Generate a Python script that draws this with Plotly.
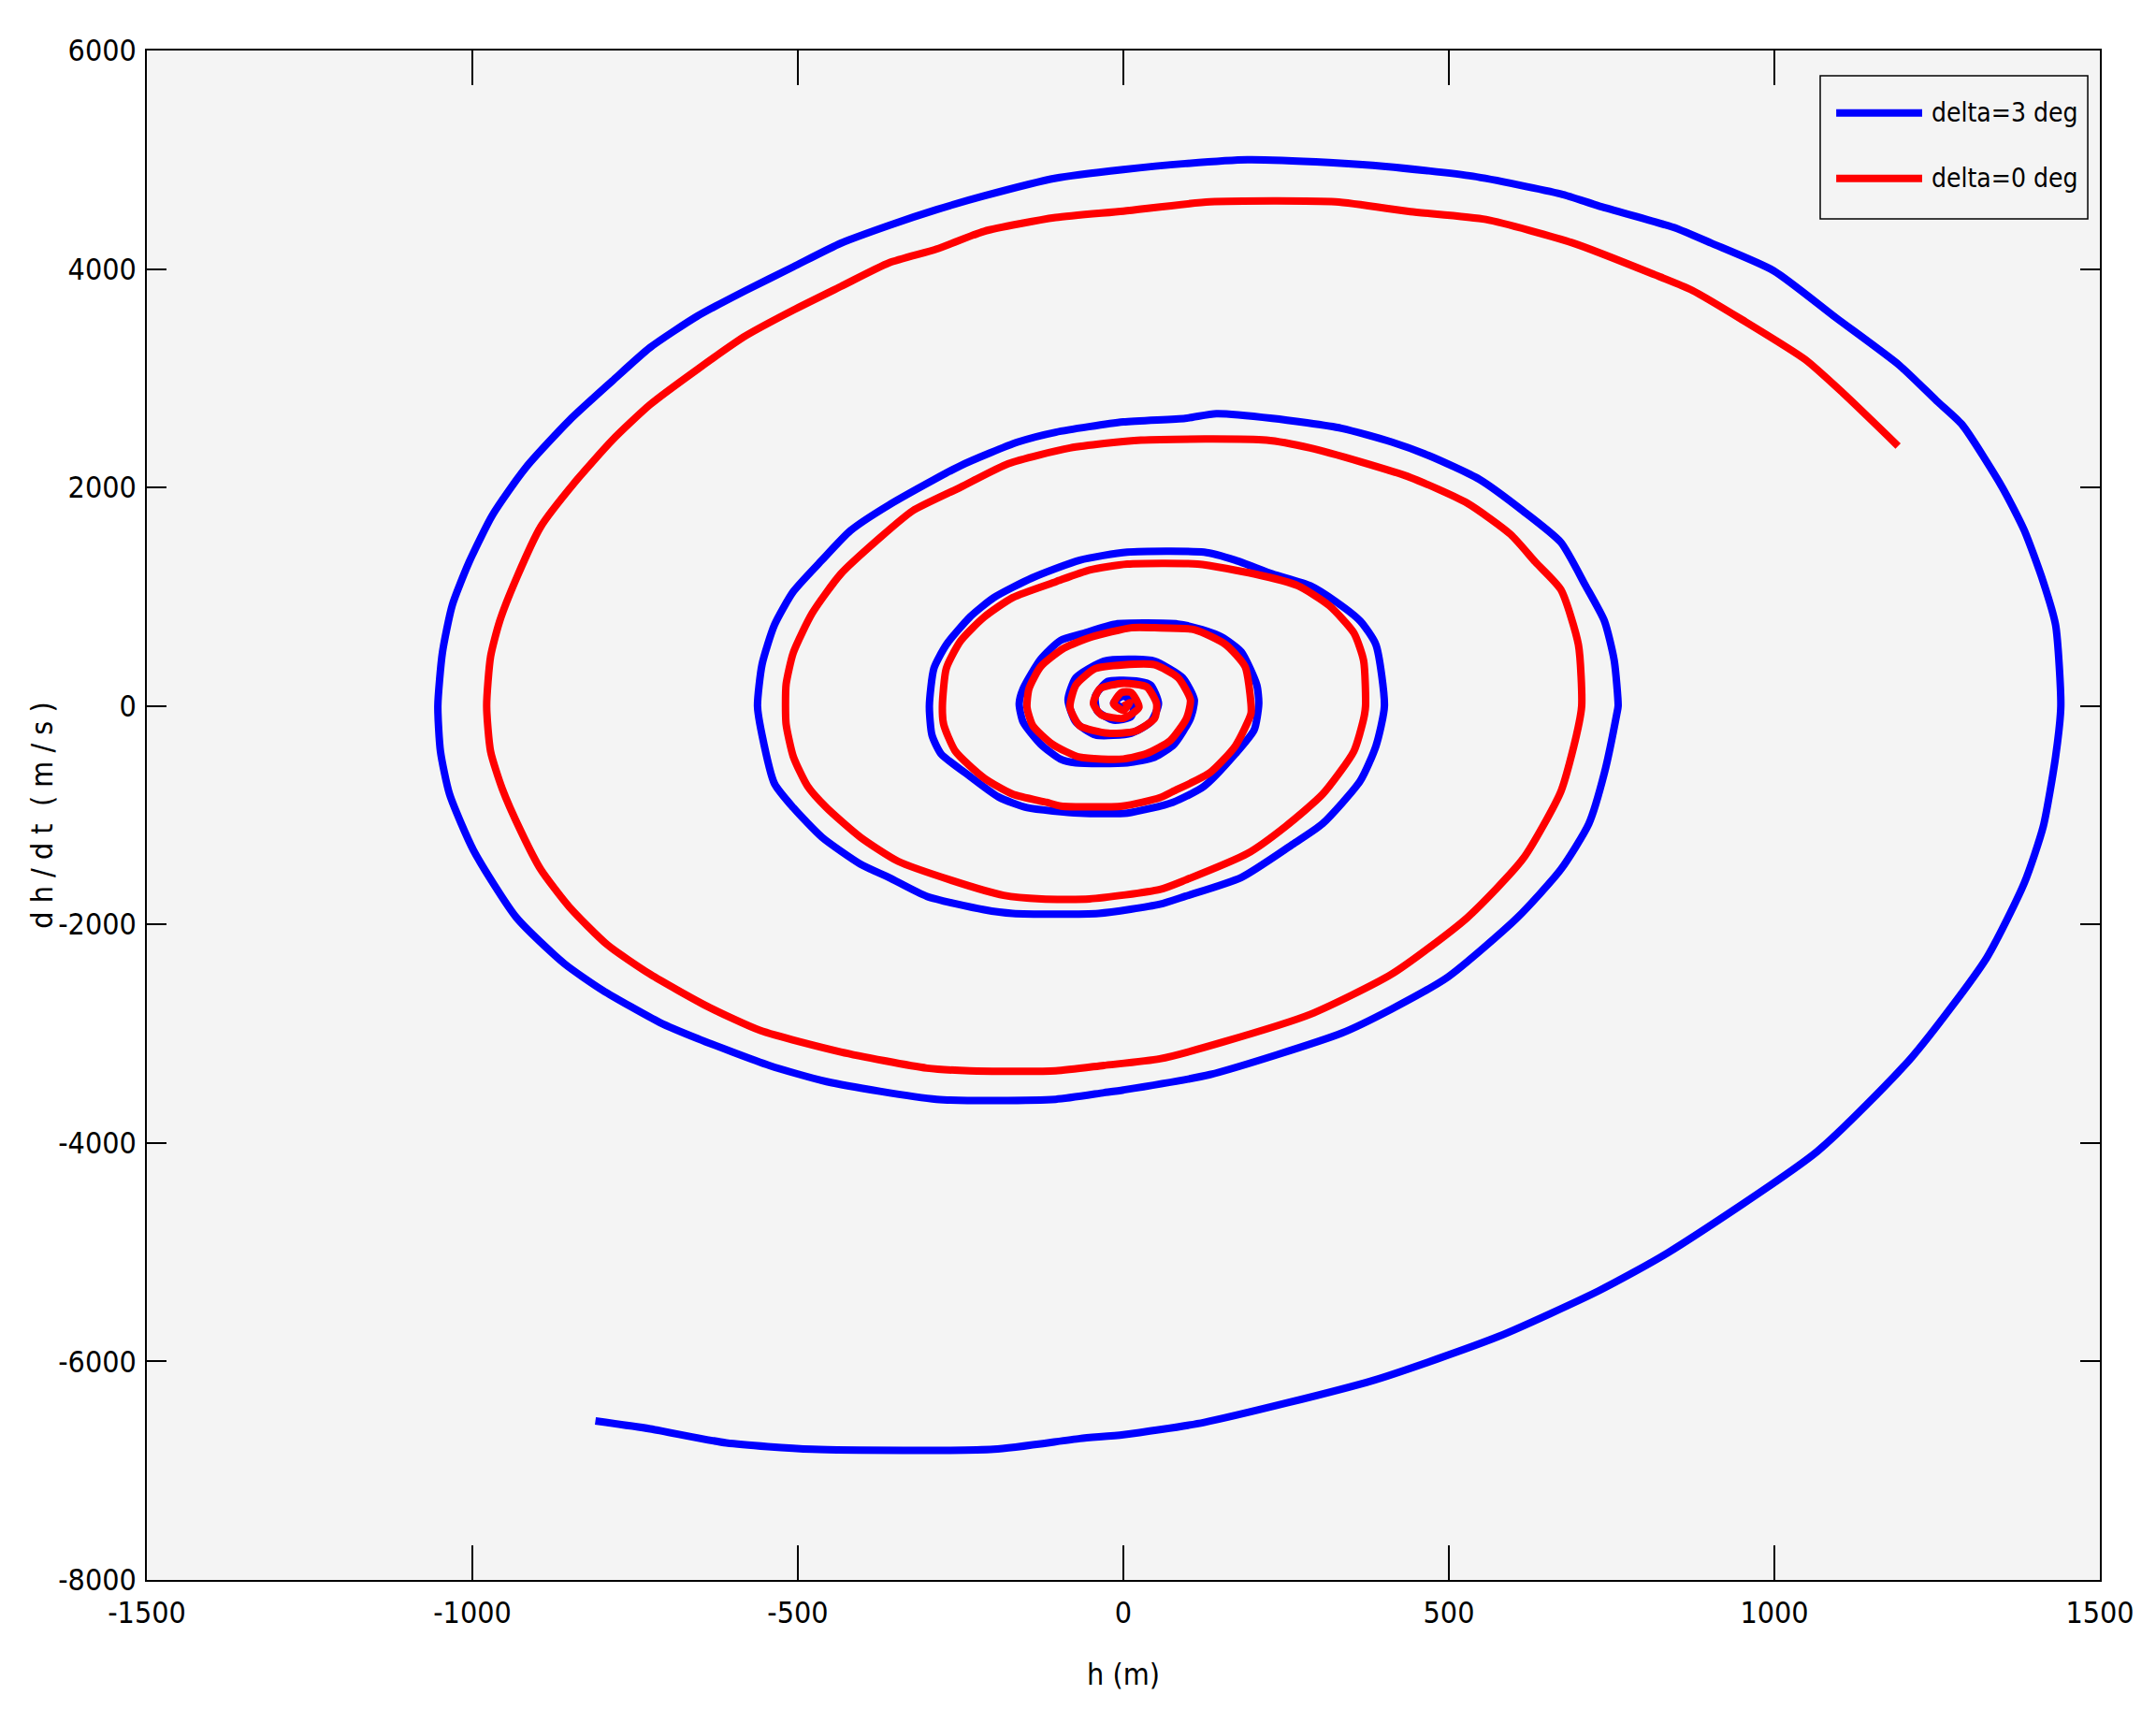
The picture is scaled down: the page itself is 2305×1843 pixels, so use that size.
import plotly.graph_objects as go

# phase portrait: h (m) against dh/dt (m/s), traced from the outer end to the centre
BLUE_NAME = "delta=3 deg"
BLUE_H = [
    -811, -727, -610, -478, -199, -67, 0, 124, 383, 576, 730, 835, 1066, 1211, 1326, 1384,
    1413, 1432, 1440, 1432, 1413, 1384, 1350, 1288, 1249, 1192, 1095, 999, 903, 845, 730,
    672, 537, 403, 316, 191, 95, 0, -104, -214, -287, -360, -434, -507, -580, -654, -727,
    -785, -851, -918, -969, -1005, -1031, -1046, -1053, -1049, -1035, -998, -932, -859,
    -800, -712, -654, -544, -456, -287, -104, -30, 0, 133, 335, 412, 499, 605, 672, 715,
    739, 758, 760, 754, 739, 710, 672, 614, 547, 470, 412, 335, 229, 143, 95, 0, -104,
    -162, -250, -360, -419, -463, -507, -536, -555, -562, -555, -536, -507, -463, -404,
    -360, -302, -214, -170, -38, 56, 95, 181, 258, 306, 364, 388, 401, 388, 364, 326, 287,
    229, 172, 124, 6, -67, -140, -199, -236, -272, -291, -298, -294, -280, -243, -192,
    -148, -67, 6, 76, 124, 172, 201, 208, 205, 181, 151, 121, 84, -12, -61, -97, -127,
    -154, -160, -154, -127, -97, -73, 6, 48, 78, 103, 109, 91, 48, 18, -30, -73, -85,
    -73, -43, 12, 42, 54, 42, 24, -24, -43, -40, -15, 12, 16, 0, -15, 0,
]
BLUE_V = [
    -6545, -6617, -6746, -6804, -6804, -6706, -6670, -6558, -6175, -5772, -5354, -5010,
    -4077, -3216, -2306, -1619, -1103, -464, 0, 741, 1137, 1606, 2002, 2578, 2795, 3119,
    3552, 3984, 4237, 4381, 4578, 4687, 4849, 4939, 4975, 5001, 4965, 4910, 4831, 4669,
    4543, 4399, 4236, 4020, 3804, 3570, 3281, 2975, 2615, 2182, 1749, 1317, 920, 488, 0,
    -415, -808, -1324, -1939, -2357, -2602, -2897, -3044, -3290, -3438, -3600, -3600,
    -3540, -3515, -3374, -2995, -2774, -2479, -1939, -1496, -1078, -611, -71, 0, 416, 777,
    1101, 1498, 1785, 2074, 2290, 2416, 2542, 2633, 2676, 2633, 2600, 2506, 2416, 2200,
    1840, 1606, 1335, 1047, 741, 380, 0, -267, -710, -931, -1201, -1447, -1570, -1742,
    -1865, -1899, -1899, -1815, -1742, -1570, -1275, -1078, -685, -366, 0, 560, 777, 957,
    1101, 1209, 1335, 1408, 1408, 1335, 1173, 992, 813, 560, 344, 0, -267, -439, -611,
    -832, -931, -980, -980, -882, -735, -439, -218, 22, 191, 496, 631, 699, 750, 750, 665,
    598, 428, 158, 22, -147, -350, -485, -520, -520, -469, -350, -113, 56, 259, 411, 428,
    411, 259, 56, -147, -265, -249, -147, 22, 191, 225, 225, 90, -45, -130, -97, 22, 90,
    30, -20,
]

RED_NAME = "delta=0 deg"
RED_H = [
    1190, 1105, 1047, 951, 874, 816, 691, 557, 441, 326, 133, 0, -104, -214, -287, -360,
    -434, -507, -580, -654, -727, -785, -844, -895, -932, -958, -972, -978, -972, -954,
    -925, -895, -851, -793, -727, -639, -558, -434, -302, -236, -104, -30, 56, 152, 287,
    412, 528, 614, 672, 696, 704, 699, 672, 633, 595, 528, 441, 364, 287, 220, 27, -82,
    -177, -250, -324, -375, -434, -478, -507, -518, -519, -518, -507, -485, -456, -404,
    -346, -265, -184, -126, -52, 56, 95, 191, 249, 306, 354, 369, 372, 369, 354, 316, 268,
    201, 114, 6, -52, -104, -170, -214, -250, -272, -278, -276, -258, -214, -170, -118,
    -96, -1, 56, 76, 133, 172, 196, 196, 187, 157, 109, 48, 12, -49, -91, -127, -145,
    -148, -139, -109, -67, 0, 36, 72, 97, 103, 84, 48, 0, -43, -73, -82, -67, -24, 18, 48,
    51, 36, 0, -36, -46, -34, 0, 24, 12, -3, -15, 0, 10, 0,
]
RED_V = [
    2380, 2867, 3173, 3534, 3804, 3948, 4237, 4453, 4525, 4615, 4615, 4530, 4471, 4345,
    4182, 4056, 3840, 3624, 3389, 3083, 2759, 2434, 2038, 1641, 1173, 777, 452, 0, -415,
    -759, -1152, -1496, -1840, -2184, -2455, -2750, -2970, -3167, -3315, -3339, -3339,
    -3290, -3230, -3078, -2823, -2455, -1939, -1398, -783, -267, 0, 560, 1065, 1317, 1570,
    1858, 2092, 2236, 2362, 2434, 2434, 2362, 2218, 2002, 1785, 1534, 1209, 849, 488, 200,
    0, -169, -464, -735, -931, -1201, -1422, -1594, -1733, -1766, -1766, -1680, -1594,
    -1349, -1103, -808, -415, -120, 0, 416, 669, 920, 1101, 1209, 1299, 1299, 1245, 1137,
    992, 813, 596, 344, 0, -169, -415, -660, -808, -882, -916, -916, -840, -783, -611,
    -366, -71, 22, 360, 563, 699, 716, 716, 631, 530, 360, 158, -12, -181, -350, -469,
    -485, -435, -317, -113, 56, 259, 377, 377, 343, 191, -12, -181, -249, -232, -113, 22,
    174, 208, 158, 22, -80, -113, -12, 123, 123, 20, -40, 30, 0,
]

X_TICKS = [-1500, -1000, -500, 0, 500, 1000, 1500]
X_TICK_TEXT = ["-1500", "-1000", "-500", "0", "500", "1000", "1500"]
Y_TICKS = [-8000, -6000, -4000, -2000, 0, 2000, 4000, 6000]
Y_TICK_TEXT = ["-8000", "-6000", "-4000", "-2000", "0", "2000", "4000", "6000"]

X_TITLE = "h (m)"
Y_TITLE = "d h / d t  ( m / s )"

FONT = "DejaVu Sans Condensed, DejaVu Sans, sans-serif"
LINE_W = 8

fig = go.Figure()
fig.add_trace(go.Scatter(x=BLUE_H, y=BLUE_V, mode="lines", name=BLUE_NAME,
                         line=dict(color="#0000ff", width=LINE_W, shape="spline", smoothing=0.6)))
fig.add_trace(go.Scatter(x=RED_H, y=RED_V, mode="lines", name=RED_NAME,
                         line=dict(color="#ff0000", width=LINE_W, shape="spline", smoothing=0.6)))

axis_common = dict(
    showgrid=False, zeroline=False, showline=True, linecolor="black", linewidth=1.5,
    mirror="ticks", ticks="inside", tickcolor="black", tickwidth=1.5,
    tickfont=dict(family=FONT, size=32, color="black"),
)
fig.update_xaxes(range=[-1500, 1500], tickvals=X_TICKS, ticktext=X_TICK_TEXT, ticklen=37,
                 ticklabelstandoff=6, **axis_common)
fig.update_yaxes(range=[-8000, 6000], tickvals=Y_TICKS, ticktext=Y_TICK_TEXT, ticklen=21,
                 ticklabelstandoff=3, **axis_common)

# legend drawn by hand so the sample lines are as long as in the original
LEG_BOX = (0.8568, 0.8899, 0.9938, 0.9835)
LEG_ROWS = [(BLUE_NAME, "#0000ff", 0.9592), (RED_NAME, "#ff0000", 0.9164)]
shapes = [dict(type="rect", xref="paper", yref="paper", x0=LEG_BOX[0], y0=LEG_BOX[1],
               x1=LEG_BOX[2], y1=LEG_BOX[3], line=dict(color="black", width=1.5),
               fillcolor="#f4f4f4")]
annotations = []
for name, color, yy in LEG_ROWS:
    shapes.append(dict(type="line", xref="paper", yref="paper", x0=0.8650, x1=0.9090,
                       y0=yy, y1=yy, line=dict(color=color, width=LINE_W)))
    annotations.append(dict(text=name, xref="paper", yref="paper", x=0.9130, y=yy,
                            xanchor="left", yanchor="middle", showarrow=False,
                            font=dict(family=FONT, size=28, color="black")))

annotations.append(dict(text=X_TITLE, xref="paper", yref="paper", x=0.5, y=-0.062,
                        xanchor="center", yanchor="middle", showarrow=False,
                        font=dict(family=FONT, size=32, color="black")))
annotations.append(dict(text=Y_TITLE, xref="paper", yref="paper", x=-0.054, y=0.5,
                        xanchor="center", yanchor="middle", showarrow=False, textangle=-90,
                        font=dict(family=FONT, size=32, color="black")))

# the page body adds an 8 px margin, so the figure is 8 px smaller each way
fig.update_layout(
    width=2297, height=1835,
    margin=dict(l=149, r=60, t=46, b=154),
    paper_bgcolor="white", plot_bgcolor="#f4f4f4",
    showlegend=False,
    shapes=shapes, annotations=annotations,
)

fig.write_html("out.html")
